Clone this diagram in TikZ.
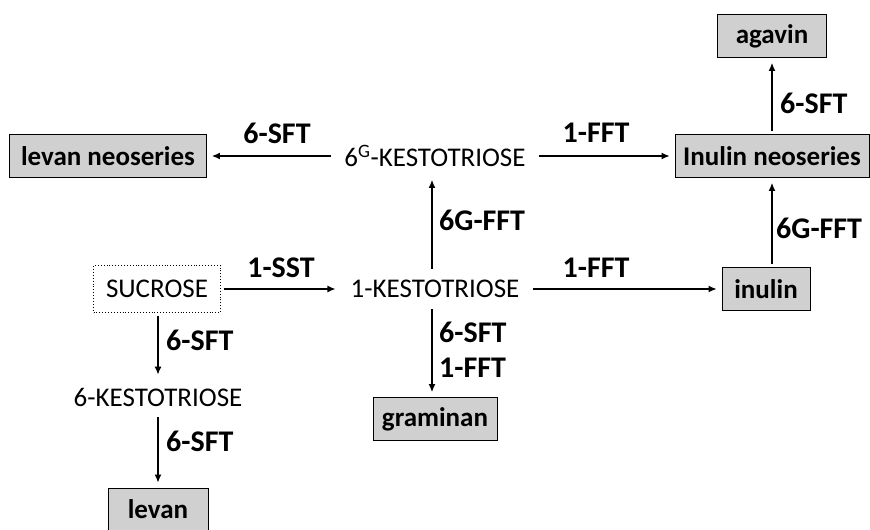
\documentclass[tikz,border=0pt]{standalone}
\usepackage{fontspec}
\setmainfont{Carlito}
\usetikzlibrary{arrows.meta}
\definecolor{boxgray}{HTML}{D0D0D0}
\newcommand{\fs}{\fontsize{27}{31}\selectfont}
\newcommand{\fl}{\fontsize{30}{34}\selectfont}
\tikzset{
  prod/.style={draw, fill=boxgray, font=\bfseries\fs, minimum height=43pt, inner xsep=4pt, line width=0.9pt},
  sugar/.style={font=\fs, inner xsep=10pt, inner ysep=8pt},
  enz/.style={font=\bfseries\fl, inner sep=1pt},
  conv/.style={-{Latex[length=8pt,width=7pt]}, line width=1.2pt, shorten >=5pt, shorten <=3pt}
}
\begin{document}
\begin{tikzpicture}[x=1pt,y=-1pt]
\useasboundingbox (0,0) rectangle (870,530);

% products
\node[prod, minimum width=109pt] (agavin) at (772,36) {agavin};
\node[prod, minimum width=194pt] (ineo) at (772,156) {Inulin neoseries};
\node[prod, minimum width=197pt] (lneo) at (108,156) {levan neoseries};
\node[prod, minimum width=88pt]  (inulin) at (766,289) {inulin};
\node[prod, minimum width=124pt] (gram) at (435,419) {graminan};
\node[prod, minimum width=100pt, minimum height=42pt] (levan) at (158,509) {levan};

% sugars
\node[draw, dotted, line width=0.9pt, font=\fs, minimum width=127pt, minimum height=47pt] (suc) at (157,289) {SUCROSE};
\node[sugar] (k6g) at (435,156) {6\textsuperscript{G}-KESTOTRIOSE};
\node[sugar] (k1) at (435,289) {1-KESTOTRIOSE};
\node[sugar] (k6) at (158,397) {6-KESTOTRIOSE};

% conversions
\draw[conv] (k6g.west) -- (lneo.east);
\draw[conv] (k6g.east) -- (ineo.west);
\draw[conv] (ineo.north) -- (agavin.south);
\draw[conv] (inulin.north -| ineo.south) -- (ineo.south);
\draw[conv] (suc.east) -- (k1.west);
\draw[conv] (k1.east) -- (inulin.west);
\draw[conv] ([xshift=-3pt]k1.north) -- ([xshift=-3pt]k6g.south);
\draw[conv] ([xshift=-3pt]k1.south) -- ([xshift=-3pt]gram.north);
\draw[conv] (suc.south -| k6.north) -- (k6.north);
\draw[conv] (k6.south) -- (levan.north);

% enzyme labels
\node[enz] (e1) at (277,133) {6-SFT};
\node[enz] (e2) at (596,133) {1-FFT};
\node[enz, anchor=west] (e3) at (779,103) {6-SFT};
\node[enz, anchor=west] (e4) at (775,228) {6G-FFT};
\node[enz] (e5) at (281,268) {1-SST};
\node[enz] (e6) at (596,268) {1-FFT};
\node[enz, anchor=west] (e7) at (438,220) {6G-FFT};
\node[enz, anchor=west] (e8) at (438,332) {6-SFT};
\node[enz, anchor=west] (e9) at (438,368) {1-FFT};
\node[enz, anchor=west] (e10) at (165,340) {6-SFT};
\node[enz, anchor=west] (e11) at (165,441) {6-SFT};
\end{tikzpicture}
\end{document}
